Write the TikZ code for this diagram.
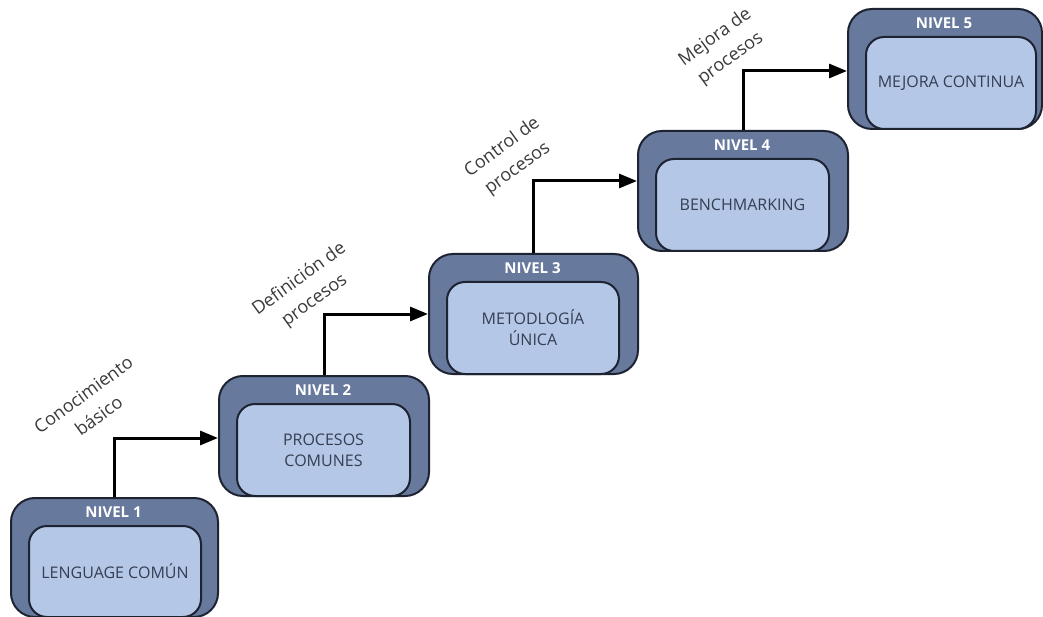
\documentclass[tikz,border=0pt]{standalone}
\usepackage{fontspec}
\setmainfont{Open Sans}
\usetikzlibrary{arrows.meta}

\definecolor{levelfill}{HTML}{67799C}
\definecolor{stepfill}{HTML}{B4C7E7}
\definecolor{edgedark}{HTML}{1E2332}
\definecolor{stepink}{HTML}{353E52}
\definecolor{labelink}{HTML}{3A3A3A}

\tikzset{
  levelbox/.style={draw=edgedark, line width=2pt, fill=levelfill,
    rounded corners=24pt, anchor=north west, inner sep=0pt},
  stepbox/.style={draw=edgedark, line width=2pt, fill=stepfill,
    rounded corners=18pt, anchor=north west, inner sep=0pt,
    align=center, text=stepink, font=\fontsize{16}{21}\selectfont},
  leveltitle/.style={text=white, font=\fontsize{15}{18}\selectfont\bfseries},
  flow/.style={draw=black, line width=3pt,
    -{Triangle[length=18pt,width=14pt]}},
  steplabel/.style={rotate=36, align=center, text=labelink,
    font=\fontsize{18}{26}\selectfont}
}

% one maturity level: outer frame, title, inner content box
% #1 id, #2 x, #3 y, #4 outer width, #5 outer height, #6 inner width, #7 title, #8 content
\newcommand{\levelblock}[8]{%
  \node[levelbox, minimum width=#4pt, minimum height=#5pt] (L#1) at (#2,#3) {};
  \node[stepbox, minimum width=#6pt, minimum height=#5pt-28pt] (S#1) at (#2+18,#3+28) {#8};
  \node[leveltitle] (T#1) at (#2+#4/2,#3+15) {#7};
}

\begin{document}
\begin{tikzpicture}[x=1pt, y=-1pt]
  \fill[white] (0,0) rectangle (1043,617);
  \useasboundingbox (0,0) rectangle (1043,617);

  \levelblock{1}{10}{497}{207}{119}{172}{NIVEL 1}{LENGUAGE COMÚN}
  \levelblock{2}{218}{375}{210}{120}{173}{NIVEL 2}{PROCESOS\\COMUNES}
  \levelblock{3}{428}{253}{209}{120}{172}{NIVEL 3}{METODLOGÍA\\ÚNICA}
  \levelblock{4}{637}{130}{210}{120}{173}{NIVEL 4}{BENCHMARKING}
  \levelblock{5}{847}{8}{194}{120}{170}{NIVEL 5}{MEJORA CONTINUA}

  % step connectors between levels
  \draw[flow] (L1.north) |- ([yshift=-2pt]L2.west);
  \draw[flow] (L2.north) |- (L3.west);
  \draw[flow] (L3.north) |- ([yshift=10pt]L4.west);
  \draw[flow] (L4.north) |- ([yshift=-2pt]L5.west);

  % step labels
  \node[steplabel] (C1) at (91,405) {Conocimiento\\básico};
  \node[steplabel] (C2) at (307,290) {Definición de\\procesos};
  \node[steplabel] (C3) at (510,158) {Control de\\procesos};
  \node[steplabel] (C4) at (723,48) {Mejora de\\procesos};
\end{tikzpicture}
\end{document}
